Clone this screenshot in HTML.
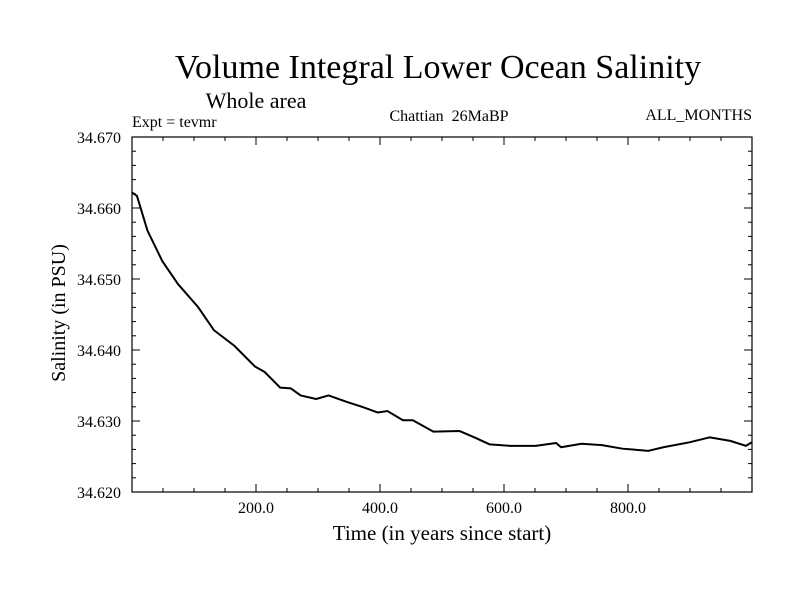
<!DOCTYPE html>
<html><head><meta charset="utf-8"><style>
html,body{margin:0;padding:0;background:#fff;}
svg{display:block;}
text{font-family:"Liberation Serif",serif;fill:#000;}
</style></head><body>
<svg id="chart" width="800" height="600">
<text x="438" y="78" font-size="34" text-anchor="middle">Volume Integral Lower Ocean Salinity</text>
<text x="256" y="108" font-size="22" text-anchor="middle">Whole area</text>
<text x="132" y="127" font-size="16">Expt = tevmr</text>
<text x="449" y="121" font-size="16" text-anchor="middle">Chattian&#160; 26MaBP</text>
<text x="752" y="120" font-size="16" text-anchor="end">ALL_MONTHS</text>
<text transform="translate(65,313) rotate(-90)" font-size="20" text-anchor="middle">Salinity (in PSU)</text>
<text x="442" y="540" font-size="21" text-anchor="middle">Time (in years since start)</text>
<g id="axes"></g>
</svg>
<script>
const years=[0,8,25,49,74,107,132,165,198,214,239,256,272,297,317,346,371,396,412,437,453,486,528,552,577,610,651,684,692,725,758,791,833,857,899,932,965,990,1000];
const salinity=[34.6622,34.6617,34.6568,34.6525,34.6493,34.6460,34.6428,34.6406,34.6377,34.6369,34.6347,34.6346,34.6336,34.6331,34.6336,34.6327,34.6320,34.6312,34.6314,34.6301,34.6301,34.6285,34.6286,34.6277,34.6267,34.6265,34.6265,34.6269,34.6263,34.6268,34.6266,34.6261,34.6258,34.6263,34.6270,34.6277,34.6272,34.6265,34.6270];
const xTickLabels=["200.0","400.0","600.0","800.0"];
const xTickValues=[200,400,600,800];
const yTickLabels=["34.620","34.630","34.640","34.650","34.660","34.670"];
const yTickValues=[34.62,34.63,34.64,34.65,34.66,34.67];
const L=132,R=752,T=137,B=492,X0=0,X1=1000,Y0=34.62,Y1=34.67;
const xs=v=>L+(v-X0)/(X1-X0)*(R-L);
const ys=v=>B-(v-Y0)/(Y1-Y0)*(B-T);
const NS="http://www.w3.org/2000/svg";
const g=document.getElementById('axes');
function mk(t,a){const e=document.createElementNS(NS,t);for(const k in a)e.setAttribute(k,a[k]);g.appendChild(e);return e;}
let f=mk('rect',{x:L,y:T,width:R-L,height:B-T,fill:'none',stroke:'#000','stroke-width':1.2});


for(let v=50;v<X1;v+=50){const maj=v%200===0,len=maj?8:4;
 let t1=mk('line',{x1:xs(v),x2:xs(v),y1:B,y2:B-len,stroke:'#000'});
 
 
 let t2=mk('line',{x1:xs(v),x2:xs(v),y1:T,y2:T+len,stroke:'#000'});
 
 }
for(let i=1;i<25;i++){const v=Y0+i*0.002;const maj=i%5===0,len=maj?8:4;
 let t1=mk('line',{x1:L,x2:L+len,y1:ys(v),y2:ys(v),stroke:'#000'});
 
 
 let t2=mk('line',{x1:R,x2:R-len,y1:ys(v),y2:ys(v),stroke:'#000'});
 
 }
xTickValues.forEach((v,i)=>{let t=mk('text',{x:xs(v),y:B+21,'font-size':16,'text-anchor':'middle'});t.textContent=xTickLabels[i];
 
 });
yTickValues.forEach((v,i)=>{let t=mk('text',{x:L-11,y:ys(v)+6,'font-size':16,'text-anchor':'end'});t.textContent=yTickLabels[i];
 
 });
let p=mk('polyline',{points:years.map((y,i)=>xs(y)+','+ys(salinity[i])).join(' '),fill:'none',stroke:'#000','stroke-width':2,'stroke-linejoin':'round'});


</script>
</body></html>
